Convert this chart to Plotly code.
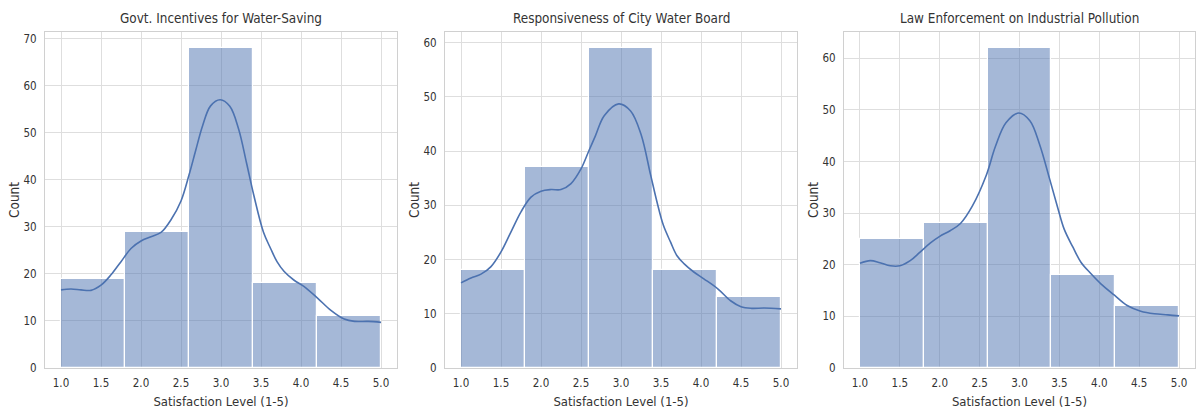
import plotly.graph_objects as go

# ---- data ----
titles = ["Govt. Incentives for Water-Saving",
          "Responsiveness of City Water Board",
          "Law Enforcement on Industrial Pollution"]
bin_edges = [1.0, 1.8, 2.6, 3.4, 4.2, 5.0]
counts_govt = [19, 29, 68, 18, 11]
counts_board = [18, 37, 59, 18, 13]
counts_law = [25, 28, 62, 18, 12]

# KDE curves (x, count)
kde_x_govt = [1.0, 1.125, 1.25, 1.375, 1.5, 1.625, 1.75, 1.875, 2.0, 2.125, 2.25, 2.375, 2.5, 2.6, 2.68,
              2.77, 2.87, 2.99, 3.11, 3.22, 3.32, 3.41, 3.53, 3.62, 3.70, 3.79, 3.91, 4.04, 4.21,
              4.37, 4.54, 4.67, 4.84, 5.0]
kde_y_govt = [16.6, 16.8, 16.6, 16.5, 17.6, 19.8, 22.6, 25.4, 27.0, 27.9, 28.8, 31.5, 35.5, 41.0, 46.0,
              51.5, 55.7, 57.0, 55.6, 50.8, 43.5, 36.7, 28.9, 25.4, 22.6, 20.5, 18.7, 17.3, 14.8,
              12.3, 10.4, 9.9, 9.9, 9.7]

kde_x_board = [1.0, 1.125, 1.25, 1.375, 1.5, 1.625, 1.75, 1.875, 2.0, 2.125, 2.25, 2.375, 2.5, 2.6, 2.68,
               2.79, 2.97, 3.12, 3.25, 3.37, 3.45, 3.53, 3.62, 3.70, 3.79, 3.91, 4.04, 4.21, 4.37, 4.50,
               4.63, 4.79, 5.0]
kde_y_board = [15.7, 16.6, 17.3, 18.7, 21.4, 25.1, 28.8, 31.5, 32.6, 32.9, 32.9, 34.0, 36.7, 40.1, 42.8,
               46.5, 48.7, 47.4, 43.1, 35.6, 30.6, 26.3, 23.2, 20.7, 19.2, 17.7, 16.4, 14.6, 12.4, 11.3,
               11.0, 11.05, 10.9]

kde_x_law = [1.0, 1.13, 1.25, 1.38, 1.5, 1.63, 1.75, 1.88, 2.0, 2.13, 2.26, 2.41, 2.58, 2.70, 2.83,
             2.99, 3.13, 3.25, 3.38, 3.48, 3.56, 3.67, 3.77, 3.90, 4.02, 4.19, 4.35, 4.52, 4.69, 4.86, 5.0]
kde_y_law = [20.3, 20.8, 20.4, 19.8, 19.8, 20.8, 22.4, 24.2, 25.5, 26.6, 28.0, 31.4, 37.2, 43.0, 47.5,
             49.4, 47.9, 43.4, 36.5, 31.0, 26.9, 23.4, 20.5, 18.2, 16.3, 14.1, 12.1, 11.0, 10.5, 10.3, 10.1]

x_ticks = [1.0, 1.5, 2.0, 2.5, 3.0, 3.5, 4.0, 4.5, 5.0]
x_label = "Satisfaction Level (1-5)"
y_label = "Count"

# ---- styling ----
W, H = 1198, 410
BAR_FILL = "rgba(76,114,176,0.5)"
LINE_COL = "#4c72b0"
GRID = "#dedede"
FRAME = "#d0d0d0"
TXT = "#333333"
FONT = "DejaVu Sans Condensed, DejaVu Sans, sans-serif"

x_domains_px = [(45, 397), (445, 797), (844, 1195)]
y_top_px, y_bot_px = 32, 368
ydom = [1 - y_bot_px / H, 1 - y_top_px / H]
count_label_x_px = [14, 414, 813]

centers = [(a + b) / 2 for a, b in zip(bin_edges[:-1], bin_edges[1:])]
widths = [b - a for a, b in zip(bin_edges[:-1], bin_edges[1:])]

panels = [
    (counts_govt, kde_x_govt, kde_y_govt),
    (counts_board, kde_x_board, kde_y_board),
    (counts_law, kde_x_law, kde_y_law),
]

fig = go.Figure()
annotations = []
for i, (cnts, kx, ky) in enumerate(panels):
    ax = "" if i == 0 else str(i + 1)
    fig.add_trace(go.Bar(
        x=centers, y=cnts, width=widths,
        marker=dict(color=BAR_FILL, line=dict(color="white", width=1.2)),
        xaxis="x" + ax, yaxis="y" + ax, showlegend=False,
    ))
    fig.add_trace(go.Scatter(
        x=kx, y=ky, mode="lines", line=dict(color=LINE_COL, width=1.6, shape="spline", smoothing=1.0),
        xaxis="x" + ax, yaxis="y" + ax, showlegend=False,
    ))
    x0, x1 = x_domains_px[i]
    xdom = [x0 / W, x1 / W]
    ymax = max(cnts) * 1.05
    fig.layout["xaxis" + ax] = dict(
        domain=xdom, anchor="y" + ax, range=[0.8, 5.2],
        tickvals=x_ticks, ticktext=[f"{v:.1f}" for v in x_ticks],
        showgrid=True, gridcolor=GRID, gridwidth=1,
        showline=True, mirror=True, linecolor=FRAME, linewidth=1,
        zeroline=False, ticks="outside", ticklen=4, tickcolor="rgba(0,0,0,0)", automargin=False,
        tickfont=dict(family=FONT, size=11.5, color=TXT),
        title=dict(text=x_label, font=dict(family=FONT, size=13, color=TXT), standoff=8),
    )
    fig.layout["yaxis" + ax] = dict(
        domain=ydom, anchor="x" + ax, range=[0, ymax], dtick=10,
        showgrid=True, gridcolor=GRID, gridwidth=1,
        showline=True, mirror=True, linecolor=FRAME, linewidth=1,
        zeroline=False, ticks="outside", ticklen=5, tickcolor="rgba(0,0,0,0)", automargin=False,
        tickfont=dict(family=FONT, size=11.5, color=TXT),
    )
    annotations.append(dict(
        text=titles[i], x=(x0 + x1) / 2 / W, y=1 - 18 / H, xref="paper", yref="paper",
        xanchor="center", yanchor="middle", showarrow=False,
        font=dict(family=FONT, size=13.4, color=TXT),
    ))
    annotations.append(dict(
        text=y_label, x=count_label_x_px[i] / W, y=1 - 200 / H, xref="paper", yref="paper",
        xanchor="center", yanchor="middle", showarrow=False, textangle=-90,
        font=dict(family=FONT, size=13.5, color=TXT),
    ))

fig.update_layout(
    width=W, height=H, margin=dict(l=0, r=0, t=0, b=0),
    paper_bgcolor="white", plot_bgcolor="white",
    bargap=0, annotations=annotations,
)

fig.write_html("out.html")
